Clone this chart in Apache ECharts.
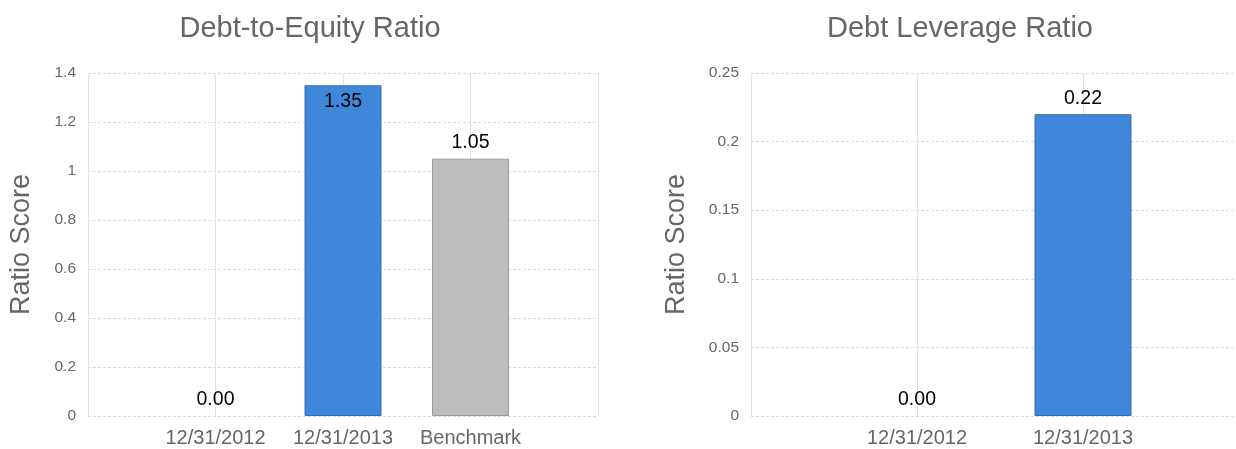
<!DOCTYPE html>
<html>
<head>
<meta charset="utf-8">
<script src="https://cdn.jsdelivr.net/npm/echarts@6/dist/echarts.min.js"></script>
<style>
  html, body { margin: 0; padding: 0; background: #fff; overflow: hidden; }
  /* the right panel's plot runs a little past the page edge */
  #chart { width: 1252px; height: 449px; }
</style>
</head>
<body>
<div id="chart"></div>
<script>
// Debt-to-Equity panel
const deCategories = ['12/31/2012', '12/31/2013', 'Benchmark'];
const deValues = [0, 1.35, 1.05];
const deColors = ['#3f87db', '#3f87db', '#bdbdbd'];
const deBorders = ['#3a6fb0', '#3a6fb0', '#9a9a9a'];
const deTicks = { min: 0, max: 1.4, interval: 0.2 };

// Debt Leverage panel
const dlCategories = ['12/31/2012', '12/31/2013'];
const dlValues = [0, 0.22];
const dlColors = ['#3f87db', '#3f87db'];
const dlBorders = ['#3a6fb0', '#3a6fb0'];
const dlTicks = { min: 0, max: 0.25, interval: 0.05 };

const FONT = 'Arial, "Liberation Sans", sans-serif';

// Pad each category list with an empty slot on both sides so the bars sit on grid lines
function padded(cats) { return [''].concat(cats, ['']); }

function barData(values, colors, borders, max) {
  const out = ['-'];
  values.forEach((v, i) => {
    const nearTop = v / max > 0.9;
    out.push({
      value: v,
      itemStyle: { color: colors[i], borderColor: borders[i], borderWidth: v === 0 ? 0 : 1 },
      label: nearTop ? { position: 'insideTop', distance: 6 } : { position: 'top', distance: 6 }
    });
  });
  out.push('-');
  return out;
}

function xAxis(gridIndex, cats) {
  return {
    type: 'category', gridIndex, data: padded(cats), boundaryGap: false,
    axisLine: { show: false }, axisTick: { show: false },
    axisLabel: { color: '#666', fontSize: 20, fontFamily: FONT, margin: 12, interval: 0, hideOverlap: false },
    splitLine: { show: true, interval: 0, lineStyle: { color: '#e3e3e3', width: 1, type: 'solid' } }
  };
}

function yAxis(gridIndex, ticks, gap) {
  return {
    type: 'value', gridIndex, min: ticks.min, max: ticks.max, interval: ticks.interval,
    name: 'Ratio Score', nameLocation: 'middle', nameRotate: 90, nameGap: gap,
    nameTextStyle: { color: '#666', fontSize: 27, fontFamily: FONT },
    axisLine: { show: false }, axisTick: { show: false },
    axisLabel: { color: '#666', fontSize: 15.5, fontFamily: FONT, margin: 12 },
    splitLine: { show: true, lineStyle: { color: '#dcdcdc', width: 1, type: [3, 2] } }
  };
}

const labelStyle = {
  show: true, color: '#000', fontSize: 19.5, fontFamily: FONT,
  formatter: p => Number(p.value).toFixed(2)
};

const chart = echarts.init(document.getElementById('chart'), null, { renderer: 'canvas' });
chart.setOption({
  animation: false,
  backgroundColor: '#fff',
  title: [
    { text: 'Debt-to-Equity Ratio', left: 305, top: 9, textAlign: 'center',
      textStyle: { color: '#666', fontSize: 29, fontWeight: 'normal', fontFamily: FONT } },
    { text: 'Debt Leverage Ratio', left: 955, top: 9, textAlign: 'center',
      textStyle: { color: '#666', fontSize: 29, fontWeight: 'normal', fontFamily: FONT } }
  ],
  grid: [
    { left: 88, top: 73, width: 510, height: 343 },
    { left: 751, top: 73, width: 499, height: 343 }
  ],
  xAxis: [xAxis(0, deCategories), xAxis(1, dlCategories)],
  yAxis: [yAxis(0, deTicks, 53), yAxis(1, dlTicks, 61)],
  series: [
    { type: 'bar', xAxisIndex: 0, yAxisIndex: 0, barWidth: 77,
      data: barData(deValues, deColors, deBorders, deTicks.max), label: labelStyle },
    { type: 'bar', xAxisIndex: 1, yAxisIndex: 1, barWidth: 97,
      data: barData(dlValues, dlColors, dlBorders, dlTicks.max), label: labelStyle }
  ]
});
</script>
</body>
</html>
